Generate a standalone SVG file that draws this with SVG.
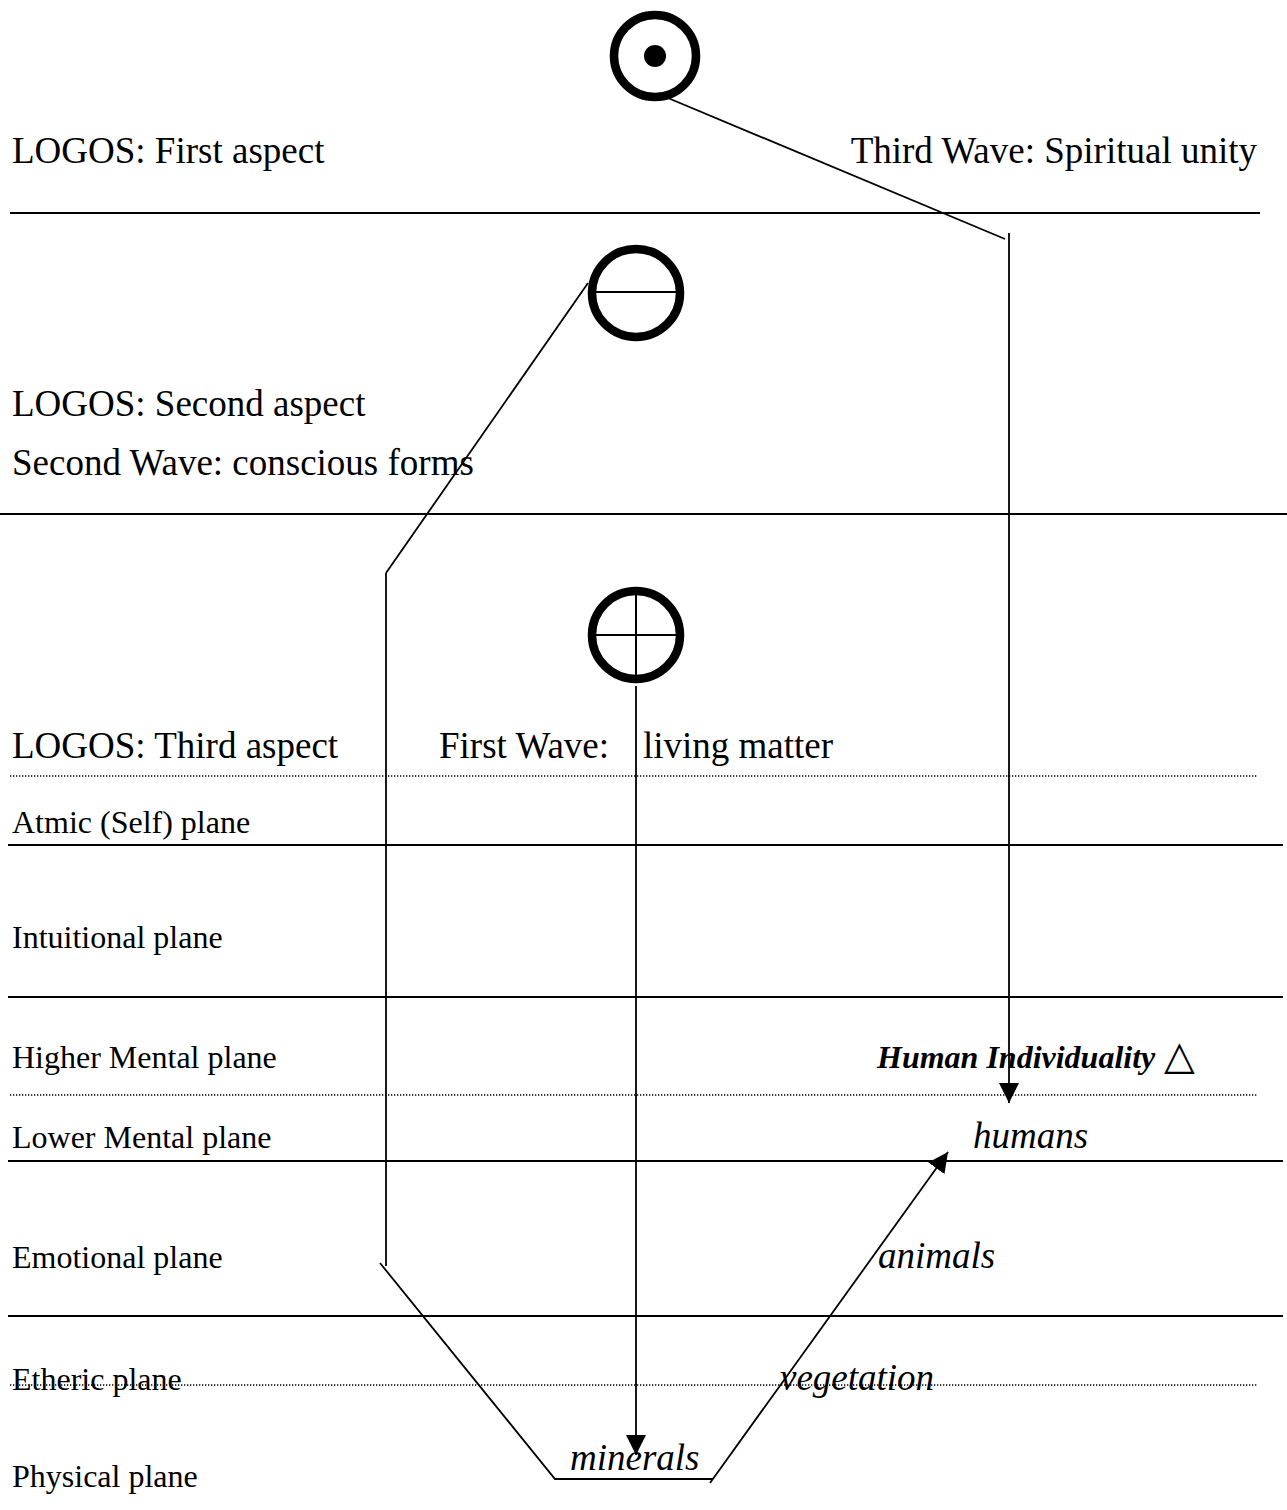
<svg xmlns="http://www.w3.org/2000/svg" width="1287" height="1510" viewBox="0 0 1287 1510">
<style>
.big{font-family:"Liberation Serif","Times New Roman",serif;font-size:37px;fill:#000}
.pl{font-family:"Liberation Serif","Times New Roman",serif;font-size:32px;fill:#000}
.it{font-family:"Liberation Serif","Times New Roman",serif;font-size:37px;font-style:italic;fill:#000}
.bi{font-family:"Liberation Serif","Times New Roman",serif;font-size:32px;font-style:italic;font-weight:bold;fill:#000}
.rule{stroke:#000;stroke-width:2;fill:none}
.dot{stroke:#000;stroke-width:1.3;stroke-dasharray:1.3 1.7;fill:none}
.ring{stroke:#000;stroke-width:8.5;fill:none}
.cross{stroke:#000;stroke-width:2;fill:none}
.conn{stroke:#000;stroke-width:1.8;fill:none}
</style>
<defs>
<marker id="ah" viewBox="0 0 20 20" refX="20" refY="10" markerWidth="20" markerHeight="20" markerUnits="userSpaceOnUse" orient="auto">
<path d="M0,0 L20,10 L0,20 Z" fill="#000"/>
</marker>
</defs>
<rect width="1287" height="1510" fill="#fff"/>
<g id="rules">
<line class="rule" x1="10" y1="213" x2="1260" y2="213"/>
<line class="rule" x1="0" y1="514" x2="1287" y2="514"/>
<line class="dot" x1="10" y1="776" x2="1258" y2="776"/>
<line class="rule" x1="8" y1="845" x2="1283" y2="845"/>
<line class="rule" x1="8" y1="997" x2="1283" y2="997"/>
<line class="dot" x1="10" y1="1095" x2="1258" y2="1095"/>
<line class="rule" x1="8" y1="1161" x2="1283" y2="1161"/>
<line class="rule" x1="8" y1="1316" x2="1283" y2="1316"/>
<line class="dot" x1="10" y1="1385" x2="1258" y2="1385"/>
</g>
<g id="labels">
<text class="big" x="12" y="163">LOGOS: First aspect</text>
<text class="big" x="1257" y="163" text-anchor="end">Third Wave: Spiritual unity</text>
<text class="big" x="12" y="416">LOGOS: Second aspect</text>
<text class="big" x="12" y="475">Second Wave: conscious forms</text>
<text class="big" x="12" y="758">LOGOS: Third aspect</text>
<text class="big" x="439" y="758">First Wave:</text>
<text class="big" x="643" y="758">living matter</text>
<text class="pl" x="12" y="833">Atmic (Self) plane</text>
<text class="pl" x="12" y="948">Intuitional plane</text>
<text class="pl" x="12" y="1068">Higher Mental plane</text>
<text class="pl" x="12" y="1148">Lower Mental plane</text>
<text class="pl" x="12" y="1268">Emotional plane</text>
<text class="pl" x="12" y="1390">Etheric plane</text>
<text class="pl" x="12" y="1487">Physical plane</text>
</g>
<g id="symbol-first">
<circle class="ring" cx="655" cy="56" r="41"/>
<circle cx="655" cy="56" r="11" fill="#000"/>
</g>
<g id="symbol-second">
<circle class="ring" cx="636" cy="293" r="44"/>
<line class="cross" x1="592" y1="292" x2="680" y2="292"/>
</g>
<g id="symbol-third">
<circle class="ring" cx="636" cy="635" r="44"/>
<line class="cross" x1="592" y1="635" x2="680" y2="635"/>
<line class="cross" x1="636" y1="591" x2="636" y2="679"/>
</g>
<g id="node-human-individuality">
<text class="bi" x="877" y="1068">Human Individuality</text>
<text x="1164" y="1069" style="font-family:'DejaVu Sans',sans-serif;font-size:40px;fill:#000">△</text>
</g>
<g id="node-humans"><text class="it" x="973" y="1148">humans</text></g>
<g id="node-animals"><text class="it" x="878" y="1268">animals</text></g>
<g id="node-vegetation"><text class="it" x="780" y="1390">vegetation</text></g>
<g id="node-minerals"><text class="it" x="570" y="1470">minerals</text></g>
<g id="connectors">
<line class="conn" x1="668" y1="98" x2="1005" y2="239"/>
<line class="conn" x1="1009" y1="233" x2="1009" y2="1103" marker-end="url(#ah)"/>
<line class="conn" x1="588" y1="283" x2="386" y2="573"/>
<line class="conn" x1="386" y1="573" x2="386" y2="1266"/>
<polyline class="conn" points="380,1263 555,1479 713,1479"/>
<line class="conn" x1="710" y1="1483" x2="948" y2="1152" marker-end="url(#ah)"/>
<line class="conn" x1="636" y1="686" x2="636" y2="1455" marker-end="url(#ah)"/>
</g>
</svg>
